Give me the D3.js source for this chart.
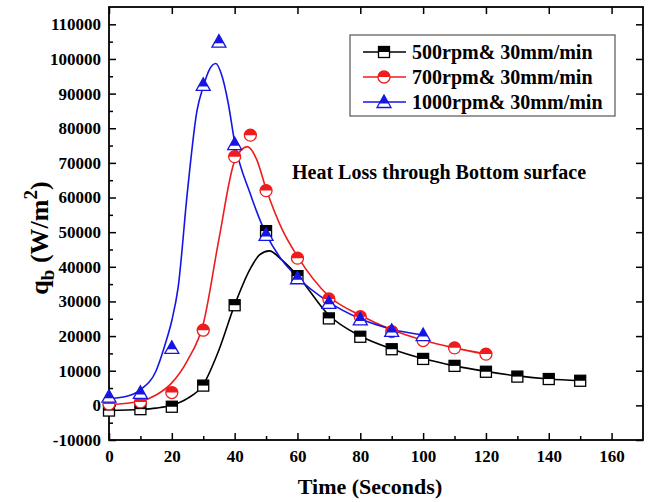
<!DOCTYPE html>
<html>
<head>
<meta charset="utf-8">
<script src="https://cdn.jsdelivr.net/npm/d3@7"></script>
<style>
  body { margin: 0; background: #fff; }
  svg text { font-family: "Liberation Serif", "Times New Roman", serif; font-weight: bold; }
</style>
</head>
<body>
<div id="chart"></div>
<script>
// measured points (markers)
const timeBlack = [0, 10, 20, 30, 40, 50, 60, 70, 80, 90, 100, 110, 120, 130, 140, 150];
const qBlack = [-1500, -1100, -400, 5700, 28900, 50300, 37300, 25100, 19800, 16200, 13400, 11400, 9700, 8300, 7600, 7100];
const timeRed = [0, 10, 20, 30, 40, 45, 50, 60, 70, 80, 90, 100, 110, 120];
const qRed = [400, 1000, 3700, 21700, 71800, 78000, 62000, 42500, 30700, 25600, 21300, 18700, 16600, 14800];
const timeBlue = [0, 10, 20, 30, 35, 40, 50, 60, 70, 80, 90, 100];
const qBlue = [2500, 3600, 16600, 92500, 105000, 75400, 49200, 36700, 29600, 24800, 21500, 20300];

// fitted curves
const fitTimeBlack = [0, 10, 15, 20, 25, 30, 35, 40, 45, 48, 51, 55, 60, 70, 80, 90, 100, 110, 120, 130, 140, 150];
const fitBlack = [-1500, -1200, -800, 0, 2000, 6000, 16000, 29000, 39500, 43500, 44600, 42000, 37500, 26000, 20000, 16300, 13500, 11400, 9800, 8500, 7600, 7100];
const fitTimeRed = [0, 10, 15, 20, 25, 30, 35, 40, 44, 47, 50, 55, 60, 70, 80, 90, 100, 110, 120];
const fitRed = [200, 1200, 3000, 6500, 13000, 23500, 48000, 70500, 74700, 71000, 62500, 51000, 43000, 31500, 26000, 21800, 18800, 16600, 14800];
const fitTimeBlue = [0, 5, 10, 15, 18, 20, 22, 25, 28, 30, 32, 34, 36, 38, 40, 45, 50, 55, 60, 70, 80, 90, 100];
const fitBlue = [2000, 2500, 4500, 10000, 18000, 24500, 34000, 62000, 85000, 92000, 97000, 98700, 95000, 87000, 76000, 61000, 49500, 42000, 37000, 29800, 25000, 22000, 20300];

const legendLabels = ["500rpm& 30mm/min", "700rpm& 30mm/min", "1000rpm& 30mm/min"];
const xTicks = [0, 20, 40, 60, 80, 100, 120, 140, 160];
const yTicks = [-10000, 0, 10000, 20000, 30000, 40000, 50000, 60000, 70000, 80000, 90000, 100000, 110000];

const W = 650, H = 502;
const plotLeft = 109, plotRight = 643, plotTop = 7, plotBottom = 440;

const svg = d3.select("#chart").append("svg")
    .attr("width", W)
    .attr("height", H);

const x = d3.scaleLinear().domain([0, 170]).range([plotLeft, plotRight]);
const y = d3.scaleLinear().domain([-10000, 115000]).range([plotBottom, plotTop]);

// minor ticks
const xMinor = d3.range(10, 170, 20);
const yMinor = d3.range(-5000, 115000, 10000);

const plainNum = d => String(d);

// bottom axis
svg.append("g")
    .attr("transform", "translate(0," + plotBottom + ")")
    .call(d3.axisBottom(x).tickValues(xTicks).tickSize(-7).tickPadding(8).tickFormat(plainNum))
    .call(g => g.select(".domain").remove())
    .call(g => g.selectAll("line").attr("stroke-width", 1.5))
    .call(g => g.selectAll("text").style("font-size", "17px").attr("dy", "0.8em"));
svg.append("g")
    .attr("transform", "translate(0," + plotBottom + ")")
    .call(d3.axisBottom(x).tickValues(xMinor).tickSize(-4).tickFormat(""))
    .call(g => g.select(".domain").remove())
    .call(g => g.selectAll("line").attr("stroke-width", 1.5));

// top axis (mirrored ticks)
svg.append("g")
    .attr("transform", "translate(0," + plotTop + ")")
    .call(d3.axisTop(x).tickValues(xTicks).tickSize(-7).tickFormat(""))
    .call(g => g.select(".domain").remove())
    .call(g => g.selectAll("line").attr("stroke-width", 1.5));

// left axis
svg.append("g")
    .attr("transform", "translate(" + plotLeft + ",0)")
    .call(d3.axisLeft(y).tickValues(yTicks).tickSize(-7).tickPadding(8).tickFormat(plainNum))
    .call(g => g.select(".domain").remove())
    .call(g => g.selectAll("line").attr("stroke-width", 1.5))
    .call(g => g.selectAll("text").style("font-size", "17px"));
svg.append("g")
    .attr("transform", "translate(" + plotLeft + ",0)")
    .call(d3.axisLeft(y).tickValues(yMinor).tickSize(-4).tickFormat(""))
    .call(g => g.select(".domain").remove())
    .call(g => g.selectAll("line").attr("stroke-width", 1.5));

// right axis (mirrored ticks)
svg.append("g")
    .attr("transform", "translate(" + plotRight + ",0)")
    .call(d3.axisRight(y).tickValues(yTicks).tickSize(-7).tickFormat(""))
    .call(g => g.select(".domain").remove())
    .call(g => g.selectAll("line").attr("stroke-width", 1.5));

// frame
svg.append("rect")
    .attr("x", plotLeft).attr("y", plotTop)
    .attr("width", plotRight - plotLeft).attr("height", plotBottom - plotTop)
    .attr("fill", "none").attr("stroke", "#000").attr("stroke-width", 1.8);

// axis titles
svg.append("text")
    .attr("x", 370).attr("y", 494)
    .attr("text-anchor", "middle")
    .style("font-size", "22px")
    .text("Time (Seconds)");

const yTitle = svg.append("text")
    .attr("transform", "translate(48," + 238 + ") rotate(-90)")
    .attr("text-anchor", "middle")
    .style("font-size", "26px");
yTitle.append("tspan").text("q");
yTitle.append("tspan").attr("dy", 6).style("font-size", "19px").text("b");
yTitle.append("tspan").attr("dy", -6).text(" (W/m");
yTitle.append("tspan").attr("dy", -11).style("font-size", "19px").text("2");
yTitle.append("tspan").attr("dy", 11).text(")");

// annotation
svg.append("text")
    .attr("x", 292).attr("y", 179)
    .style("font-size", "20px")
    .text("Heat Loss through Bottom surface");

const series = [
    { name: legendLabels[0], color: "#000000", shape: "square", t: timeBlack, q: qBlack, ft: fitTimeBlack, fq: fitBlack },
    { name: legendLabels[1], color: "#ee1c1c", shape: "circle", t: timeRed, q: qRed, ft: fitTimeRed, fq: fitRed },
    { name: legendLabels[2], color: "#1515e6", shape: "triangle", t: timeBlue, q: qBlue, ft: fitTimeBlue, fq: fitBlue }
];

const line = d3.line()
    .x(d => x(d[0]))
    .y(d => y(d[1]))
    .curve(d3.curveMonotoneX);

// draw a half filled marker at (0,0) inside group g
function drawMarker(g, shape, color) {
    if (shape === "square") {
        g.append("rect").attr("x", -5.5).attr("y", -5.5).attr("width", 11).attr("height", 11)
            .attr("fill", "#fff").attr("stroke", color).attr("stroke-width", 1.3);
        g.append("rect").attr("x", -5.5).attr("y", -5.5).attr("width", 11).attr("height", 5.5)
            .attr("fill", color);
    } else if (shape === "circle") {
        g.append("circle").attr("r", 6)
            .attr("fill", "#fff").attr("stroke", color).attr("stroke-width", 1.3);
        g.append("path").attr("d", "M-6,0 A6,6 0 0,1 6,0 Z")
            .attr("fill", color);
    } else {
        g.append("path").attr("d", "M0,-7 L7,5.5 L-7,5.5 Z")
            .attr("fill", "#fff").attr("stroke", color).attr("stroke-width", 1.3);
        g.append("path").attr("d", "M0,-7 L4.8,1.5 L-4.8,1.5 Z")
            .attr("fill", color);
    }
}

series.forEach(function (s) {
    svg.append("path")
        .datum(s.ft.map((t, i) => [t, s.fq[i]]))
        .attr("fill", "none")
        .attr("stroke", s.color)
        .attr("stroke-width", 1.6)
        .attr("d", line);
});

series.forEach(function (s) {
    s.t.forEach(function (t, i) {
        let g = svg.append("g")
            .attr("transform", "translate(" + x(t) + "," + y(s.q[i]) + ")");
        drawMarker(g, s.shape, s.color);
    });
});

// legend
const legend = svg.append("g").attr("transform", "translate(350,35)");
legend.append("rect")
    .attr("width", 265).attr("height", 81)
    .attr("fill", "#fff").attr("stroke", "#555").attr("stroke-width", 1.2);
series.forEach(function (s, i) {
    let row = legend.append("g").attr("transform", "translate(0," + (17 + i * 25) + ")");
    row.append("line")
        .attr("x1", 13).attr("x2", 56)
        .attr("stroke", s.color).attr("stroke-width", 1.6);
    let m = row.append("g").attr("transform", "translate(34,0)");
    drawMarker(m, s.shape, s.color);
    row.append("text")
        .attr("x", 62).attr("y", 7)
        .style("font-size", "20px")
        .text(s.name);
});
</script>
</body>
</html>
